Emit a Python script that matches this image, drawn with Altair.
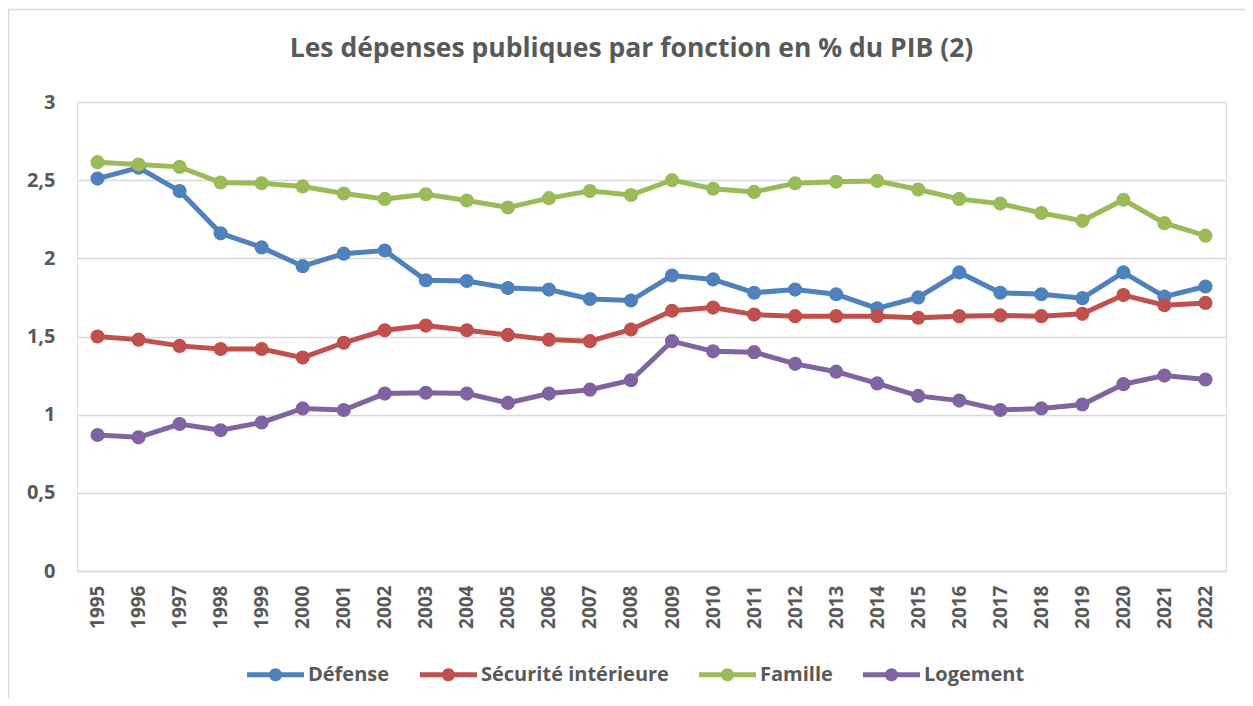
import altair as alt
import pandas as pd

years = list(range(1995, 2023))
series_names = ["Défense", "Sécurité intérieure", "Famille", "Logement"]
colors = ["#4F81BD", "#C0504D", "#9BBB59", "#8064A2"]

defense = [2.51, 2.58, 2.43, 2.16, 2.07, 1.95, 2.03, 2.05, 1.86, 1.855, 1.81, 1.80, 1.74, 1.73,
           1.89, 1.865, 1.78, 1.80, 1.77, 1.68, 1.75, 1.91, 1.78, 1.77, 1.745, 1.91, 1.755, 1.82]
securite = [1.50, 1.48, 1.44, 1.42, 1.42, 1.365, 1.46, 1.54, 1.57, 1.54, 1.51, 1.48, 1.47, 1.545,
            1.665, 1.685, 1.64, 1.63, 1.63, 1.63, 1.62, 1.63, 1.635, 1.63, 1.645, 1.765, 1.70, 1.715]
famille = [2.615, 2.60, 2.585, 2.485, 2.48, 2.46, 2.415, 2.38, 2.41, 2.37, 2.325, 2.385, 2.43, 2.405,
           2.50, 2.445, 2.425, 2.48, 2.49, 2.495, 2.44, 2.38, 2.35, 2.29, 2.24, 2.375, 2.225, 2.145]
logement = [0.87, 0.855, 0.94, 0.90, 0.95, 1.04, 1.03, 1.135, 1.14, 1.135, 1.075, 1.135, 1.16, 1.22,
            1.47, 1.405, 1.40, 1.325, 1.275, 1.20, 1.12, 1.09, 1.03, 1.04, 1.065, 1.195, 1.25, 1.225]

values = [defense, securite, famille, logement]
rows = []
for name, vals in zip(series_names, values):
    for y, v in zip(years, vals):
        rows.append({"Année": str(y), "Série": name, "Valeur": v})
df = pd.DataFrame(rows)

FONT = "Open Sans"
GRAY = "#595959"

x_enc = alt.X("Année:O", scale=alt.Scale(type="point", padding=0.5),
              axis=alt.Axis(title=None, labelAngle=270, ticks=False, labelPadding=14,
                            labelFontSize=19, labelFont=FONT, labelFontWeight="bold",
                            labelColor=GRAY, domainColor="#d9d9d9", domainWidth=1.5,
                            grid=False))
y_enc = alt.Y("Valeur:Q", scale=alt.Scale(domain=[0, 3]),
              axis=alt.Axis(title=None, values=[0, 0.5, 1, 1.5, 2, 2.5, 3],
                            labelExpr="replace(format(datum.value, '~g'), '.', ',')",
                            ticks=False, domain=False, labelPadding=22,
                            labelFontSize=20, labelFont=FONT, labelFontWeight="bold",
                            labelColor=GRAY, gridColor="#d9d9d9", gridWidth=1.5))

legend_path = ("M-1,-0.088L1,-0.088L1,0.088L-1,0.088Z "
               "M-0.23,0A0.23,0.23,0,1,1,0.23,0A0.23,0.23,0,1,1,-0.23,0Z")
color_enc = alt.Color("Série:N", scale=alt.Scale(domain=series_names, range=colors),
                      sort=series_names,
                      legend=alt.Legend(title=None, orient="none", direction="horizontal",
                                        legendX=170, legendY=544,
                                        symbolType=legend_path, symbolSize=3249,
                                        symbolStrokeWidth=0, labelOffset=4,
                                        columnPadding=30, padding=0, labelLimit=0,
                                        labelFontSize=20, labelFont=FONT,
                                        labelFontWeight="bold", labelColor=GRAY))

lines = alt.Chart(df).mark_line(strokeWidth=5).encode(x=x_enc, y=y_enc, color=color_enc)
points = alt.Chart(df).mark_point(filled=True, size=200, opacity=1).encode(
    x=x_enc, y=y_enc, color=color_enc)

border = alt.Chart(pd.DataFrame({"b": [0]})).mark_rect(
    fill=None, stroke="#d9d9d9", strokeWidth=1.5
).encode(x=alt.value(-68.5), x2=alt.value(1200), y=alt.value(-92.5), y2=alt.value(700))

chart = alt.layer(border, lines, points).properties(
    width=1149, height=469,
    title=alt.Title("Les dépenses publiques par fonction en % du PIB (2)",
                    font=FONT, fontSize=26.5, fontWeight="bold", color=GRAY,
                    anchor="middle", frame="group", baseline="alphabetic",
                    dx=-20, offset=-75),
    autosize=alt.AutoSizeParams(type="none"),
    padding={"left": 69, "top": 94, "right": 19, "bottom": 127},
).configure_view(stroke=None).configure(background="white")

chart.save("out.html", embed_options={"renderer": "svg", "actions": False})
